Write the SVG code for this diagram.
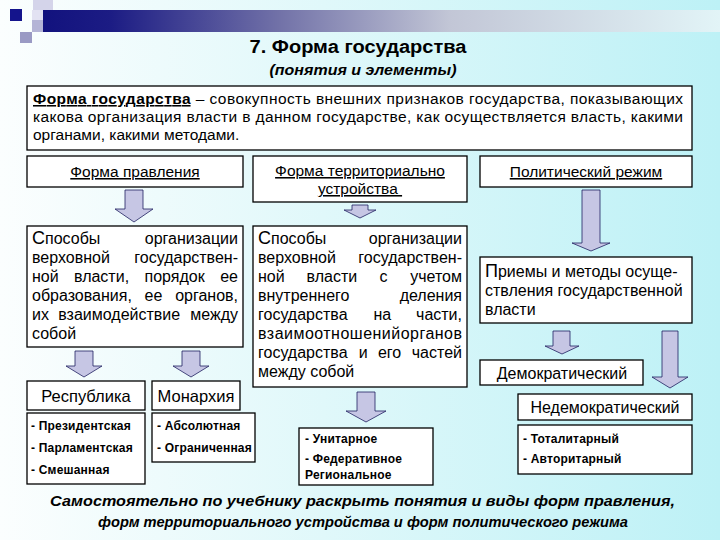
<svg xmlns="http://www.w3.org/2000/svg" width="720" height="540" viewBox="0 0 720 540">
<defs>
<linearGradient id="bg" x1="0" y1="0" x2="1" y2="0">
<stop offset="0" stop-color="#fbfefe"/>
<stop offset="0.45" stop-color="#e0f8fa"/>
<stop offset="1" stop-color="#bdf1f6"/>
</linearGradient>
<linearGradient id="band" x1="0" y1="0" x2="1" y2="0">
<stop offset="0" stop-color="#12127e"/>
<stop offset="0.1" stop-color="#1c1c84"/>
<stop offset="0.35" stop-color="#7272a8"/>
<stop offset="0.6" stop-color="#c2c6d6"/>
<stop offset="1" stop-color="#e2f4f7"/>
</linearGradient>
<style>
.box{fill:#fff;stroke:#000;stroke-width:1.3}
.t{font-family:"Liberation Sans",Arial,sans-serif;fill:#000}
.lab{font-size:15.5px;text-anchor:middle;text-decoration:underline}
.body{font-size:16px}
.big{font-size:16.5px;text-anchor:middle}
.mid{font-size:16px;text-anchor:middle}
.sm{font-size:12px;font-weight:bold;letter-spacing:0.2px}
.end{text-anchor:end}
.arr{fill:#c6c6e4;stroke:#202060;stroke-width:0.8}
</style>
</defs>
<rect width="720" height="540" fill="url(#bg)"/>
<g id="decor">
<rect x="43" y="10" width="677" height="22" fill="url(#band)"/>
<rect x="33" y="0" width="20" height="10" fill="#d4d4ea"/>
<rect x="32" y="10" width="11" height="10" fill="#e2e2f2"/>
<rect x="10" y="9" width="12" height="12" fill="#14148c"/>
<rect x="32" y="20" width="11" height="12" fill="#b4b4d6"/>
<rect x="20" y="32" width="12" height="11" fill="#9a9ac4"/>
</g>
<g id="title">
<text class="t" x="358" y="53" font-size="18" font-weight="bold" text-anchor="middle" textLength="217" lengthAdjust="spacingAndGlyphs">7. Форма государства</text>
<text class="t" x="363" y="75" font-size="14" font-weight="bold" font-style="italic" text-anchor="middle" textLength="187" lengthAdjust="spacingAndGlyphs">(понятия и элементы)</text>
</g>
<g id="definition">
<rect class="box" x="27" y="86" width="665" height="64"/>
<text class="t" x="33" y="104" font-size="15.5" textLength="650" lengthAdjust="spacing"><tspan font-weight="bold" text-decoration="underline">Форма государства</tspan> – совокупность внешних признаков государства, показывающих</text>
<text class="t" x="33" y="122" font-size="15.5" textLength="650" lengthAdjust="spacing">какова организация власти в данном государстве, как осуществляется власть, какими</text>
<text class="t" x="33" y="140" font-size="15.5">органами, какими методами.</text>
</g>
<g id="connectors">
<path class="arr" d="M125 190H143V209H153L134 222L115 209H125Z"/>
<path class="arr" d="M352 205H368V210H376L360 218L344 210H352Z"/>
<path class="arr" d="M582 190H600V243H610L591 251L572 243H582Z"/>
<path class="arr" d="M75 351H93V366H102L84 377L66 366H75Z"/>
<path class="arr" d="M182 351H200V366H209L191 377L173 366H182Z"/>
<path class="arr" d="M357 392H375V411H386L366 422L346 411H357Z"/>
<path class="arr" d="M553 331H570V346H579L562 354L545 346H553Z"/>
<path class="arr" d="M662 331H678V377H688L670 388L652 377H662Z"/>
</g>
<g id="forma-pravleniya">
<rect class="box" x="27" y="156" width="216" height="31"/>
<text class="t lab" x="135" y="177">Форма правления</text>
</g>
<g id="forma-ustroystva">
<rect class="box" x="253" y="156" width="214" height="46"/>
<text class="t lab" x="360" y="176">Форма территориально</text>
<text class="t lab" x="360" y="194">устройства&#160;</text>
</g>
<g id="polit-rezhim">
<rect class="box" x="480" y="156" width="212" height="31"/>
<text class="t lab" x="586" y="177">Политический режим</text>
</g>
<g id="left-desc">
<rect class="box" x="27" y="226" width="216" height="121"/>
<g class="t body">
<text x="32" y="244"><tspan font-size="18">С</tspan>пособы</text>
<text class="end" x="238" y="244">организации</text>
<text x="32" y="263">верховной</text>
<text class="end" x="238" y="263">государствен-</text>
<text x="32" y="282">ной</text>
<text x="74" y="282">власти,</text>
<text x="144.5" y="282">порядок</text>
<text class="end" x="238" y="282">ее</text>
<text x="32" y="301">образования,</text>
<text x="144.6" y="301">ее</text>
<text class="end" x="238" y="301">органов,</text>
<text x="32" y="320">их</text>
<text x="58.3" y="320">взаимодействие</text>
<text class="end" x="238" y="320">между</text>
<text x="32" y="339">собой</text>
</g>
</g>
<g id="mid-desc">
<rect class="box" x="253" y="226" width="214" height="161"/>
<g class="t body">
<text x="258" y="244"><tspan font-size="18">С</tspan>пособы</text>
<text class="end" x="462" y="244">организации</text>
<text x="258" y="263">верховной</text>
<text class="end" x="462" y="263">государствен-</text>
<text x="258" y="282">ной</text>
<text x="306.6" y="282">власти</text>
<text x="379.5" y="282">с</text>
<text class="end" x="462" y="282">учетом</text>
<text x="258" y="301">внутреннего</text>
<text class="end" x="462" y="301">деления</text>
<text x="258" y="320">государства</text>
<text x="373.5" y="320">на</text>
<text class="end" x="462" y="320">части,</text>
<text x="258" y="339" textLength="204" lengthAdjust="spacing">взаимоотношенийорганов</text>
<text x="258" y="358">государства</text>
<text x="358.8" y="358">и</text>
<text x="377.9" y="358">его</text>
<text class="end" x="462" y="358">частей</text>
<text x="258" y="377">между собой</text>
</g>
</g>
<g id="priemy">
<rect class="box" x="480" y="257" width="212" height="66"/>
<g class="t body">
<text x="485" y="277"><tspan font-size="18">П</tspan>риемы и методы осуще-</text>
<text x="485" y="296">ствления государственной</text>
<text x="485" y="315">власти</text>
</g>
</g>
<g id="respublika">
<rect class="box" x="27" y="381" width="118" height="29"/>
<text class="t big" x="86" y="402">Республика</text>
</g>
<g id="monarhiya">
<rect class="box" x="152" y="381" width="88" height="29"/>
<text class="t big" x="196" y="402">Монархия</text>
</g>
<g id="respublika-vidy">
<rect class="box" x="27" y="413" width="118" height="71"/>
<text class="t sm" x="31" y="430">- Президентская</text>
<text class="t sm" x="31" y="452">- Парламентская</text>
<text class="t sm" x="31" y="474">- Смешанная</text>
</g>
<g id="monarhiya-vidy">
<rect class="box" x="152" y="413" width="103" height="49"/>
<text class="t sm" x="157" y="430">- Абсолютная</text>
<text class="t sm" x="157" y="452">- Ограниченная</text>
</g>
<g id="ustroystvo-vidy">
<rect class="box" x="299" y="428" width="134" height="57"/>
<text class="t sm" x="305" y="443">- Унитарное</text>
<text class="t sm" x="305" y="463">- Федеративное</text>
<text class="t sm" x="305" y="479">Региональное</text>
</g>
<g id="demokr">
<rect class="box" x="480" y="360" width="163" height="25"/>
<text class="t mid" x="562" y="379">Демократический</text>
</g>
<g id="nedemokr">
<rect class="box" x="518" y="394" width="174" height="26"/>
<text class="t mid" x="605" y="413">Недемократический</text>
</g>
<g id="nedemokr-vidy">
<rect class="box" x="518" y="425" width="174" height="49"/>
<text class="t sm" x="523" y="443">- Тоталитарный</text>
<text class="t sm" x="523" y="463">- Авторитарный</text>
</g>
<g id="note">
<text class="t" x="362.5" y="506" font-size="15" font-weight="bold" font-style="italic" text-anchor="middle" textLength="625" lengthAdjust="spacingAndGlyphs">Самостоятельно по учебнику раскрыть понятия и виды форм правления,</text>
<text class="t" x="363" y="527" font-size="15" font-weight="bold" font-style="italic" text-anchor="middle" textLength="530" lengthAdjust="spacingAndGlyphs">форм территориального устройства и форм политического режима</text>
</g>
</svg>
